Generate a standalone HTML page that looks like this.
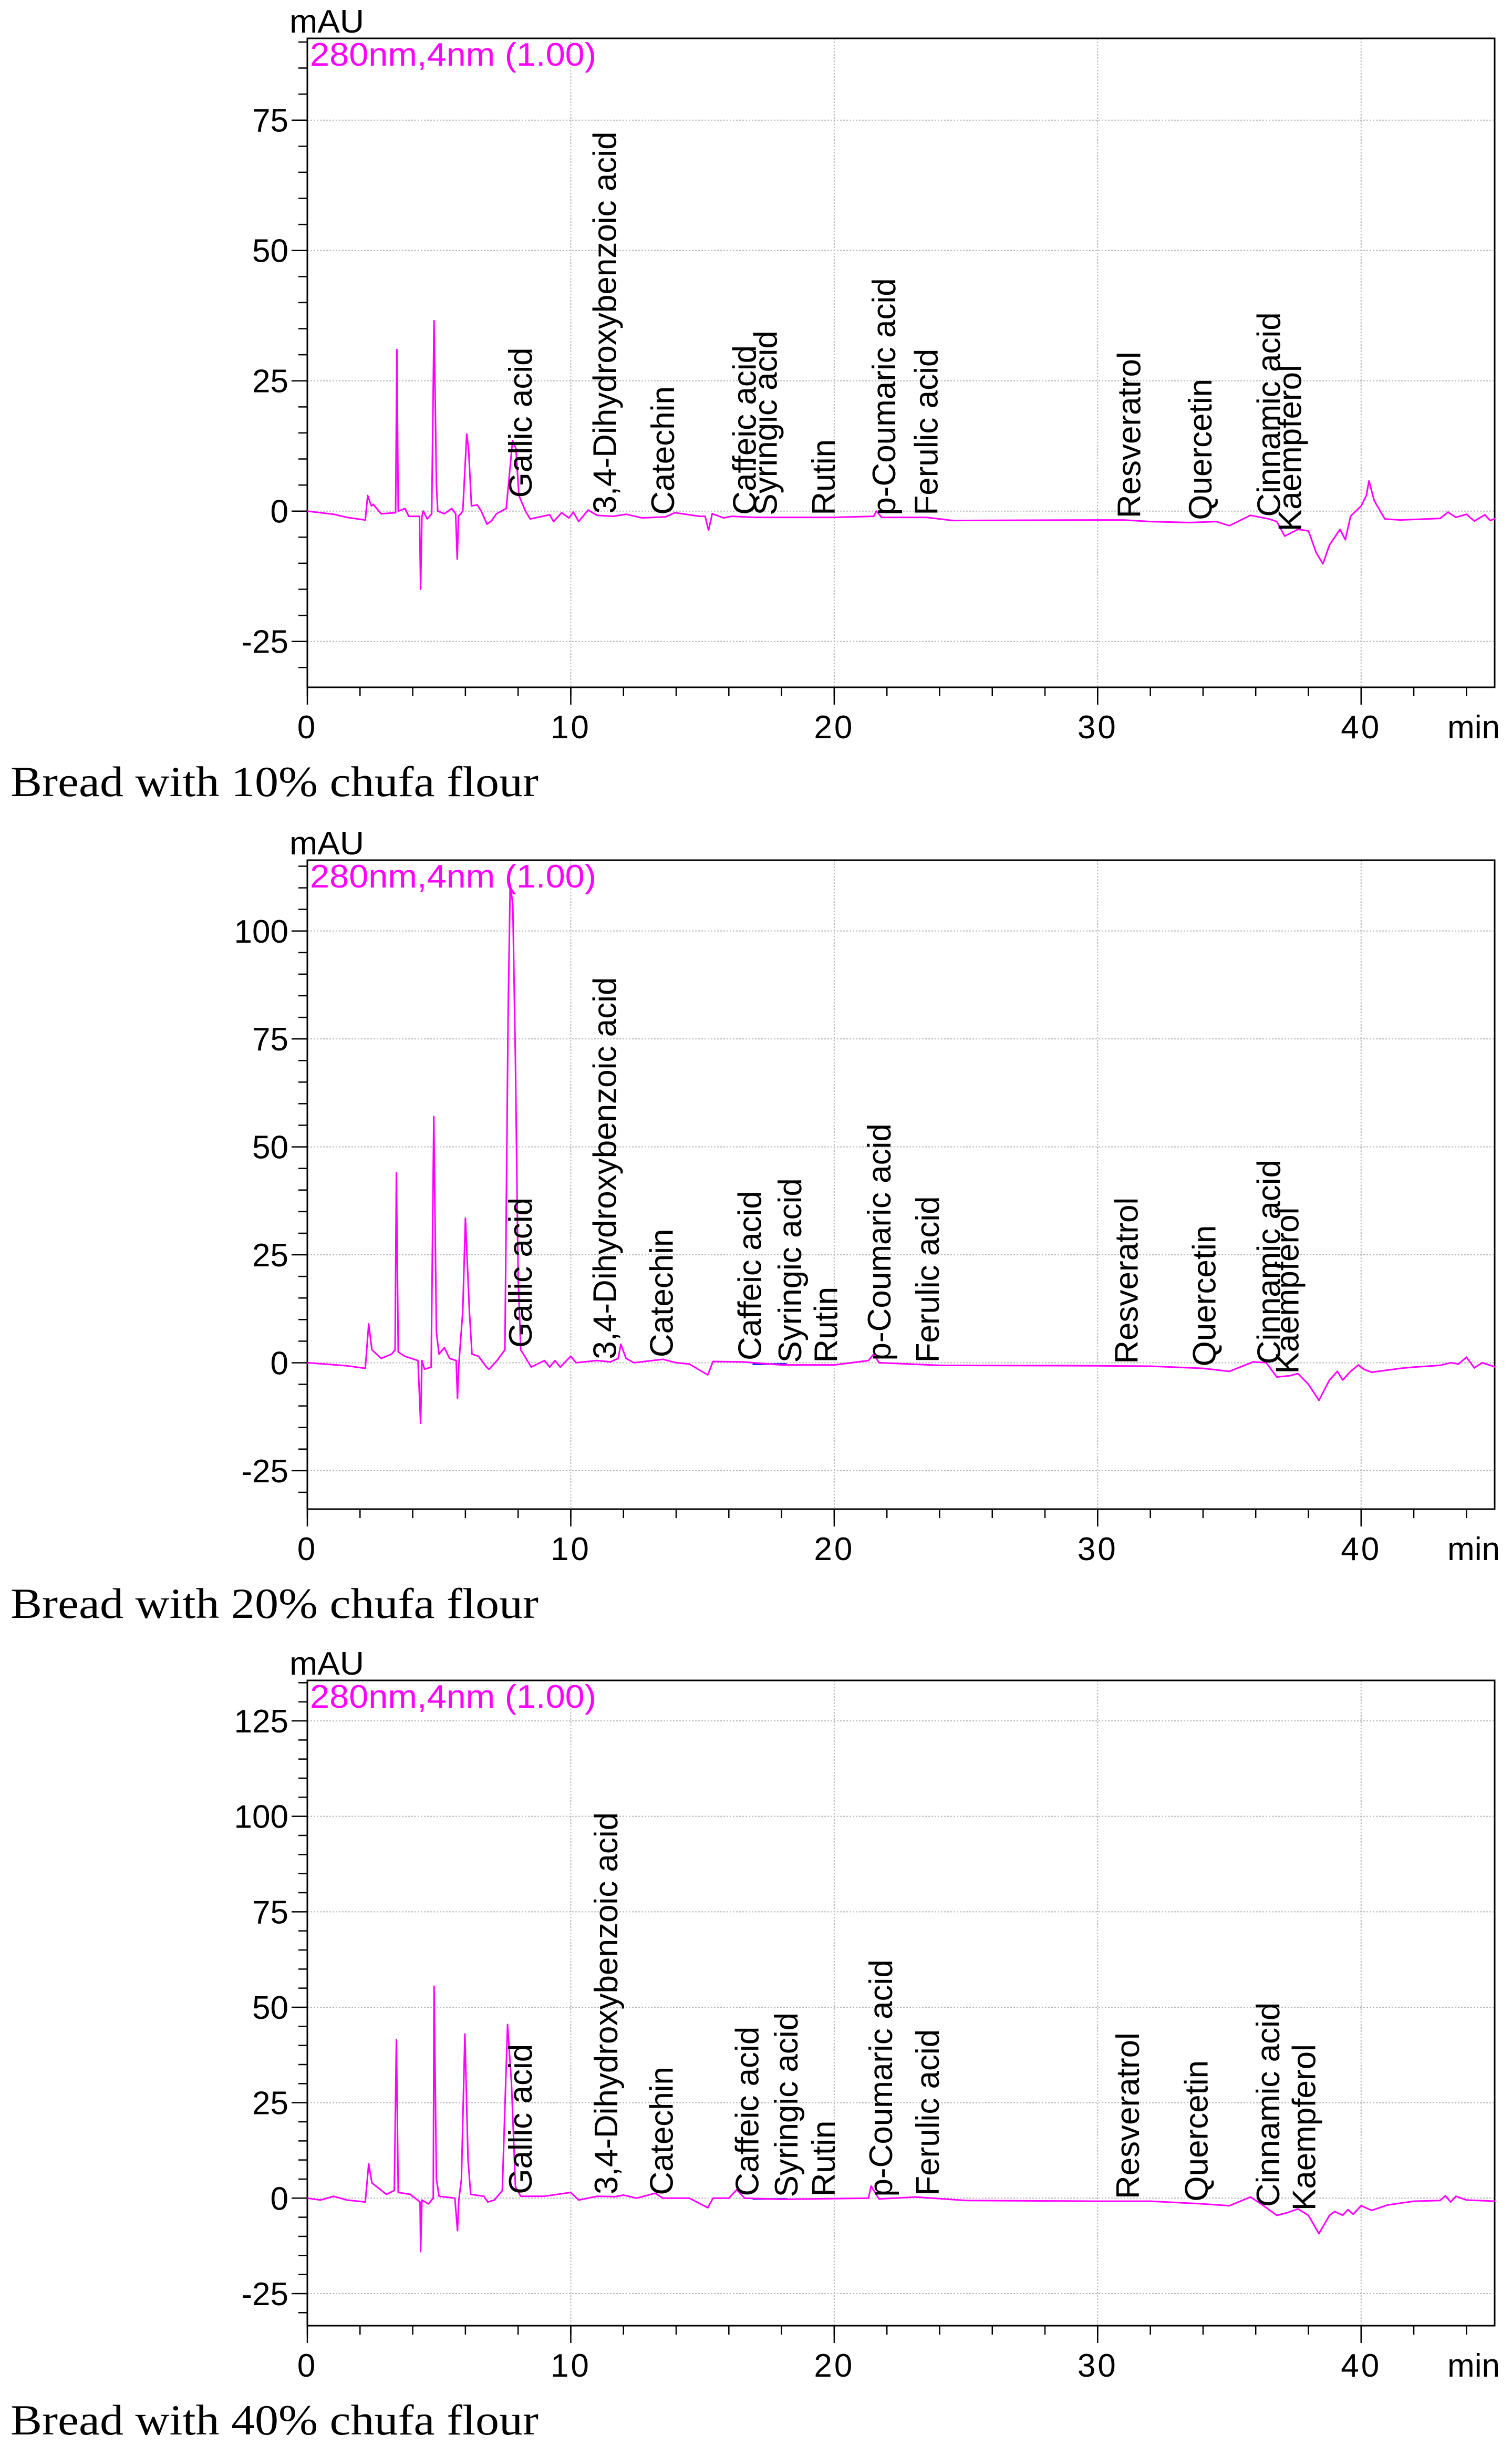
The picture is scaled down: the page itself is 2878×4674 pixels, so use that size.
<!DOCTYPE html>
<html><head><meta charset="utf-8"><title>Chromatograms</title>
<style>
html,body{margin:0;padding:0;background:#fff;}
svg{display:block;}
</style></head>
<body>
<svg id="chart" width="2878" height="4674" viewBox="0 0 2878 4674" xmlns="http://www.w3.org/2000/svg"></svg>
<script>
// ---------- data ----------
const panelTitles = ["Bread with 10% chufa flour","Bread with 20% chufa flour","Bread with 40% chufa flour"];
const yMinVals = [-33.8,-33.9,-33.4];
const yMaxVals = [90.7,116.4,135.6];
const yTickLabels = [[-25,0,25,50,75],[-25,0,25,50,75,100],[-25,0,25,50,75,100,125]];
const xTickLabels = [0,10,20,30,40];
const compoundNames = ["Gallic acid","3,4-Dihydroxybenzoic acid","Catechin","Caffeic acid","Syringic acid","Rutin","p-Coumaric acid","Ferulic acid","Resveratrol","Quercetin","Cinnamic acid","Kaempferol"];
const labelTimes1 = [8.1,11.3,13.5,16.6,17.4,19.6,21.9,23.5,31.2,33.9,36.5,37.3];
const labelTimes2 = [8.1,11.3,13.45,16.8,18.33,19.7,21.72,23.55,31.1,34.05,36.5,37.2];
const labelTimes3 = [8.1,11.35,13.45,16.7,18.19,19.6,21.78,23.55,31.15,33.75,36.47,37.84];

const times1 = [0,0.5,1.0,1.5,2.2,2.29,2.43,2.5,2.8,3.35,3.40,3.45,3.71,3.85,4.26,4.30,4.35,4.40,4.55,4.72,4.81,4.90,4.95,5.2,5.48,5.63,5.69,5.74,5.9,6.05,6.12,6.23,6.45,6.6,6.82,7.0,7.18,7.55,7.79,7.92,8.03,8.28,8.46,9.2,9.35,9.65,9.93,10.1,10.3,10.66,11.0,11.6,12.1,12.7,13.6,13.95,14.9,15.1,15.23,15.37,15.8,16.1,17,20,21.5,21.6,21.8,23,23.5,24.5,30,31,32,33.5,34.5,35,35.8,36.5,36.8,37.1,37.6,38.0,38.3,38.55,38.8,39.2,39.4,39.6,40.0,40.2,40.3,40.5,40.9,41.5,43,43.3,43.6,44,44.3,44.7,44.9,45.1];
const values1 = [0,-0.3,-0.6,-1.2,-1.7,3.0,1.0,1.3,-0.5,-0.3,31,0,0.5,-1,-1,-15,-1,0,-1.5,-0.5,36.5,5,0,-0.5,0.5,-0.5,-9.2,-1,0,14.8,12,1,1.2,0,-2.5,-1.8,-0.5,0.5,13.5,12,3,0,-1.5,-0.7,-2,-0.3,-1.3,-0.2,-2,0.2,-0.8,-1,-0.6,-1.3,-1.1,-0.3,-1,-1,-3.7,-0.5,-1.3,-1,-1.2,-1.2,-1.0,0,-1.2,-1.2,-1.2,-1.8,-1.7,-1.7,-2,-2.2,-2.0,-2.8,-0.8,-1.5,-2,-4.8,-3.5,-3.8,-8,-10.1,-6.5,-3.5,-5.5,-1,1,3,5.8,2,-1.5,-1.7,-1.4,-0.2,-1.2,-0.6,-1.9,-0.7,-1.8,-1.4];

const times2 = [0,1.5,2.2,2.33,2.45,2.8,3.2,3.33,3.38,3.45,3.7,4.2,4.3,4.35,4.45,4.7,4.8,4.9,5.0,5.2,5.4,5.65,5.7,5.75,5.9,6.0,6.15,6.25,6.5,6.8,6.9,7.2,7.5,7.62,7.7,7.8,7.9,8.0,8.1,8.4,8.5,9.0,9.2,9.4,9.6,10.0,10.2,11.0,11.5,11.8,11.9,12.1,12.4,13.5,14.0,14.5,15.2,15.4,16.5,18,20,21.3,21.5,21.7,24,30,32,34,35,35.9,36.4,36.8,37.3,37.6,38.0,38.4,38.8,39.1,39.3,39.6,39.9,40.1,40.4,41.5,42,43,43.4,43.7,44.0,44.3,44.6,45.1];
const values2 = [0,-0.7,-1.3,9,3,1,2,3,44,2.5,1.5,0.5,-14,0.5,-1.5,-1,57,7,2,3.5,1,0.5,-8.2,-0.5,12,33.5,12,2,1.5,-1,-1.5,0.5,3,80,111,106,70,20,3,0,-1,0.5,-1,0.5,-1,1.5,0,0.5,0.2,1,4.3,1,0,0.8,0,-0.3,-2.8,0.3,0.2,-0.5,-0.5,0.5,2,0,-0.6,-0.7,-0.8,-1.3,-2,0.2,0,-3.3,-3,-2.5,-5,-8.7,-4,-2,-4,-2,-0.5,-1.5,-2.2,-1.3,-1.0,-0.6,0,-0.3,1.3,-1.2,0,-1];

const times3 = [0,0.5,1.0,1.5,2.2,2.33,2.45,3.0,3.3,3.38,3.45,3.9,4.28,4.3,4.35,4.6,4.78,4.81,4.9,5.0,5.6,5.7,5.75,5.85,5.98,6.1,6.2,6.7,6.85,7.1,7.4,7.6,7.75,7.9,8.1,9.0,10.0,10.3,11.0,11.7,12.0,12.5,13.2,13.5,14.5,15.2,15.4,16.0,16.3,16.6,18,21.3,21.4,21.7,23.1,25,30,32,34,35,35.8,36.2,36.8,37.2,37.6,38.0,38.4,38.8,39.0,39.3,39.5,39.7,40.0,40.4,41,42,43,43.2,43.4,43.6,44,45.1];
const values3 = [0,-0.5,0.5,-0.5,-1,9,4,1,2,41.5,1.5,1,-1,-14,-0.5,-1.5,0,55.5,5,0.5,0,-8.5,-0.5,5,43,10,1,0.5,-1,-0.5,2,45.5,30,3,0.5,0.5,1.5,-0.5,0.5,0.4,0.8,0,1.3,0,0,-2.5,0,0,2.2,0,-0.3,0,3.2,-0.2,0.3,-0.6,-0.8,-0.8,-1.5,-2,0.3,-1.5,-4.5,-3.8,-2.8,-4.5,-9.3,-4.5,-3.5,-4.5,-3.0,-4.2,-2.0,-3.2,-1.8,-0.8,-0.6,0.6,-1,0.5,-0.5,-0.8];

const blueTimes = [16.9,18.2];
const blueValues2 = [-0.3,-0.3];
const blueValues3 = [-0.2,-0.2];

const traceTimes = [times1,times2,times3];
const traceValues = [values1,values2,values3];
const labelTimes = [labelTimes1,labelTimes2,labelTimes3];
const blueSeries = [null,blueValues2,blueValues3];

// ---------- layout ----------
const NS = "http://www.w3.org/2000/svg";
const svg = document.getElementById("chart");
const L = 585, R = 2845, X_MAX = 45.07;
const tops = [73,1637,3198], heights = [1235,1235,1228];
function mk(tag, attrs, parent){ const e=document.createElementNS(NS,tag); for(const k in attrs) e.setAttribute(k,attrs[k]); (parent||svg).appendChild(e); return e; }
function xS(t){ return L + t*(R-L)/X_MAX; }
function interp(ts,vs,t){ if(t<=ts[0]) return vs[0]; for(let i=1;i<ts.length;i++){ if(t<=ts[i]){ const f=(t-ts[i-1])/(ts[i]-ts[i-1]); return vs[i-1]+f*(vs[i]-vs[i-1]); } } return vs[vs.length-1]; }
const SANS = '"Liberation Sans", Arial, sans-serif';

for(let p=0;p<3;p++){
  const top=tops[p], H=heights[p], bot=top+H, yMin=yMinVals[p], yMax=yMaxVals[p];
  const yS = v => bot - (v-yMin)*(H)/(yMax-yMin);
  const g = mk("g",{});
  
  

  const grid = mk("g",{},g);
  
  
  yTickLabels[p].forEach(v=>{ mk("line",{x1:L,x2:R,y1:yS(v),y2:yS(v),stroke:"#b8b8b8","stroke-width":2,"stroke-dasharray":"3,3"},grid); });
  xTickLabels.forEach(t=>{ if(t>0) mk("line",{x1:xS(t),x2:xS(t),y1:top,y2:bot,stroke:"#b8b8b8","stroke-width":2,"stroke-dasharray":"3,3"},grid); });

  const yAx = mk("g",{},g);
  
  
  for(let v=Math.ceil(yMin/5)*5; v<=yMax; v+=5){
    const major = yTickLabels[p].indexOf(v)>=0;
    mk("line",{x1:L-(major?30:17),x2:L,y1:yS(v),y2:yS(v),stroke:"#000","stroke-width":2.5},yAx);
  }
  yTickLabels[p].forEach(v=>{
    const tx = mk("text",{x:549,y:yS(v)+22,"text-anchor":"end","font-family":SANS,"font-size":62,fill:"#000"},yAx);
    tx.textContent = String(v);
    
    
  });
  const mau = mk("text",{x:551,y:top-11,"font-family":SANS,"font-size":62,fill:"#000",textLength:142,lengthAdjust:"spacingAndGlyphs"},yAx);
  mau.textContent="mAU";
  
  

  const xAx = mk("g",{},g);
  
  
  for(let t=0;t<=X_MAX;t+=2){ mk("line",{x1:xS(t),x2:xS(t),y1:bot,y2:bot+17,stroke:"#000","stroke-width":2.5},xAx); }
  xTickLabels.forEach(t=>{
    mk("line",{x1:xS(t),x2:xS(t),y1:bot,y2:bot+33,stroke:"#000","stroke-width":2.5},xAx);
    const tx = mk("text",{x:xS(t),y:bot+97,"text-anchor":"middle","font-family":SANS,"font-size":62,fill:"#000","letter-spacing":4},xAx);
    tx.textContent=String(t);
    
    
  });
  const mn = mk("text",{x:2755,y:bot+97,"font-family":SANS,"font-size":62,fill:"#000",textLength:100,lengthAdjust:"spacingAndGlyphs"},xAx);
  mn.textContent="min";
  
  

  const fr = mk("rect",{x:L,y:top,width:R-L,height:H,fill:"none",stroke:"#000","stroke-width":3},g);
  
  

  if(blueSeries[p]){
    const bl = mk("line",{x1:xS(blueTimes[0]),x2:xS(blueTimes[1]),y1:yS(blueSeries[p][0]),y2:yS(blueSeries[p][1]),stroke:"#0000ff","stroke-width":3},g);
    
    
  }

  const ts=traceTimes[p], vs=traceValues[p];
  let d="";
  for(let i=0;i<ts.length;i++){ d += (i?"L":"M")+xS(ts[i]).toFixed(1)+","+yS(vs[i]).toFixed(1); }
  const tr = mk("path",{d:d,fill:"none",stroke:"#ff00ff","stroke-width":3,"stroke-linejoin":"round"},g);
  
  

  const lg = mk("text",{x:590,y:top+52,"font-family":SANS,"font-size":62,fill:"#ff00ff",textLength:545,lengthAdjust:"spacingAndGlyphs"},g);
  lg.textContent="280nm,4nm (1.00)";
  
  

  const lbls = mk("g",{},g);
  
  
  labelTimes[p].forEach((t,i)=>{
    const lx = xS(t)+21;
    let ly = yS(Math.min(interp(ts,vs,t),4))-4;
    const tx = mk("text",{x:lx,y:ly,transform:"rotate(-90 "+lx.toFixed(1)+" "+ly.toFixed(1)+")","font-family":SANS,"font-size":62,fill:"#000"},lbls);
    tx.textContent = compoundNames[i];
    
    
  });

  const tt = mk("text",{x:20,y:bot+207,"font-family":'"Liberation Serif", "Times New Roman", serif',"font-size":82,fill:"#000",textLength:1005,lengthAdjust:"spacingAndGlyphs"},g);
  tt.textContent = panelTitles[p];
  
  
}
</script>
</body></html>
